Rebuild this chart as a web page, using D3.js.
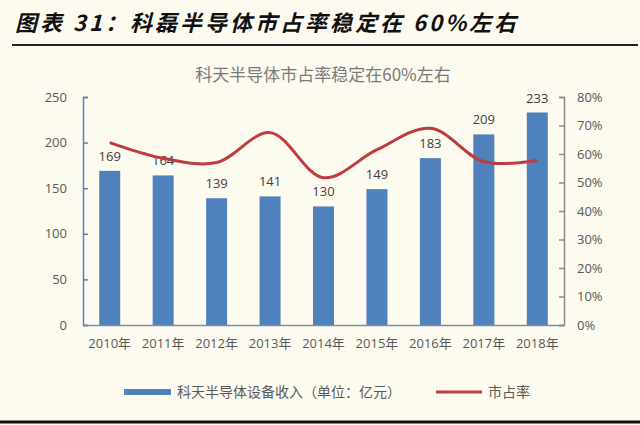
<!DOCTYPE html>
<html>
<head>
<meta charset="utf-8">
<script src="https://cdn.jsdelivr.net/npm/d3@7"></script>
<style>
  html, body { margin: 0; padding: 0; background: #fdfaf0; }
  svg { display: block; font-family: "Noto Sans CJK SC", "Liberation Sans", sans-serif; }
</style>
</head>
<body>
<script>
// chart size
const width = 640, height = 425;
const margin = { top: 97, right: 76, bottom: 100, left: 83 };

// data
const years = ["2010年", "2011年", "2012年", "2013年", "2014年", "2015年", "2016年", "2017年", "2018年"];
const revenue = [169, 164, 139, 141, 130, 149, 183, 209, 233];
const share = [0.64, 0.585, 0.57, 0.675, 0.517, 0.615, 0.69, 0.573, 0.577];
const leftTicks = [0, 50, 100, 150, 200, 250];
const rightTicks = [0, 0.1, 0.2, 0.3, 0.4, 0.5, 0.6, 0.7, 0.8];

const barColor = "#4f81bd", lineColor = "#be3c3e", textGray = "#595959";

const svg = d3.select("body").append("svg")
  .attr("width", width)
  .attr("height", height);

svg.append("rect").attr("width", width).attr("height", height).attr("fill", "#fdfaf0");

// big report title + rules
svg.append("text")
  .attr("x", 15).attr("y", 31)
  .attr("font-size", 22).attr("font-weight", "bold").attr("font-style", "italic")
  .attr("letter-spacing", 3)
  .attr("fill", "#111")
  .text("图表 31：科磊半导体市占率稳定在 60%左右");

svg.append("line")
  .attr("x1", 12).attr("x2", 638).attr("y1", 45).attr("y2", 45)
  .attr("stroke", "#222").attr("stroke-width", 2);

svg.append("line")
  .attr("x1", 0).attr("x2", width).attr("y1", 422).attr("y2", 422)
  .attr("stroke", "#111").attr("stroke-width", 3);

// chart title
svg.append("text")
  .attr("x", 323).attr("y", 81)
  .attr("text-anchor", "middle")
  .attr("font-size", 17).attr("fill", "#7a7a7a")
  .text("科天半导体市占率稳定在60%左右");

// scales
const x = d3.scaleBand()
  .domain(years)
  .range([margin.left, width - margin.right])
  .paddingInner(0.607)
  .paddingOuter(0.3035);

const y = d3.scaleLinear().domain([0, 250]).range([height - margin.bottom, margin.top]);
const y2 = d3.scaleLinear().domain([0, 0.8]).range([height - margin.bottom, margin.top]);

// left axis (ticks pointing inward)
const gl = svg.append("g")
  .attr("transform", `translate(${margin.left},0)`)
  .call(d3.axisLeft(y).tickValues(leftTicks).tickSize(-5).tickPadding(16));
gl.selectAll("path, line").attr("stroke", "#5b7fbe").attr("stroke-width", 1.5);
gl.selectAll("text").attr("font-size", 13).attr("fill", textGray)
  .attr("font-family", "'Open Sans', 'Liberation Sans', sans-serif");

// right axis
const gr = svg.append("g")
  .attr("transform", `translate(${width - margin.right},0)`)
  .call(d3.axisRight(y2).tickValues(rightTicks).tickSize(-5).tickPadding(13).tickFormat(d3.format(".0%")));
gr.selectAll("path, line").attr("stroke", "#8a8a8a").attr("stroke-width", 1.5);
gr.selectAll("text").attr("font-size", 13).attr("fill", textGray)
  .attr("font-family", "'Open Sans', 'Liberation Sans', sans-serif");

// bars
svg.append("g").selectAll("rect")
  .data(revenue)
  .join("rect")
  .attr("x", (d, i) => x(years[i]))
  .attr("y", d => y(d))
  .attr("width", x.bandwidth())
  .attr("height", d => y(0) - y(d))
  .attr("fill", barColor);

// bottom axis
const gb = svg.append("g")
  .attr("transform", `translate(0,${height - margin.bottom})`)
  .call(d3.axisBottom(x).tickSize(0).tickPadding(14));
gb.select("path").attr("stroke", "#7f8ea3").attr("stroke-width", 1.5);
gb.selectAll("text").attr("font-size", 13).attr("fill", textGray)
  .attr("font-family", "'Open Sans', 'Noto Sans CJK SC', sans-serif");

// data labels
svg.append("g").selectAll("text")
  .data(revenue)
  .join("text")
  .attr("x", (d, i) => x(years[i]) + x.bandwidth() / 2)
  .attr("y", d => y(d) - 10)
  .attr("text-anchor", "middle")
  .attr("font-size", 13).attr("fill", "#404040")
  .attr("font-family", "'Open Sans', 'Liberation Sans', sans-serif")
  .text(d => d);

// market share line (smoothed like excel)
const line = d3.line()
  .x((d, i) => x(years[i]) + x.bandwidth() / 2)
  .y(d => y2(d))
  .curve(d3.curveCatmullRom.alpha(0.5));

svg.append("path")
  .datum(share)
  .attr("d", line)
  .attr("fill", "none")
  .attr("stroke", lineColor)
  .attr("stroke-width", 3);

// legend
const lg = svg.append("g");
lg.append("rect").attr("x", 124).attr("y", 389).attr("width", 47).attr("height", 6).attr("fill", barColor);
lg.append("text").attr("x", 177).attr("y", 397).attr("font-size", 14).attr("fill", textGray)
  .text("科天半导体设备收入（单位：亿元）");
lg.append("line").attr("x1", 436).attr("x2", 482).attr("y1", 392).attr("y2", 392)
  .attr("stroke", lineColor).attr("stroke-width", 3);
lg.append("text").attr("x", 488).attr("y", 397).attr("font-size", 14).attr("fill", textGray)
  .text("市占率");
</script>
</body>
</html>
